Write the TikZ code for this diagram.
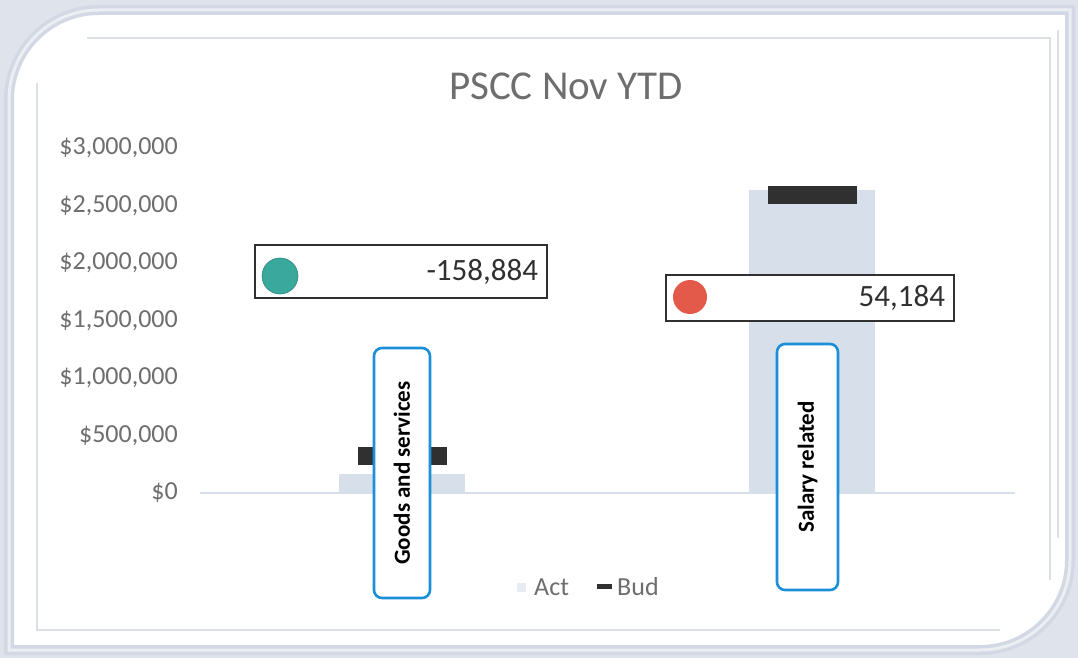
\documentclass[tikz,border=0pt]{standalone}
\usepackage{fontspec}
\setmainfont{Carlito}
\definecolor{txtgrey}{HTML}{6E6E6E}
\definecolor{barblue}{HTML}{D6DFEA}
\definecolor{budgrey}{HTML}{303030}
\definecolor{tealdot}{HTML}{3AA89D}
\definecolor{reddot}{HTML}{E35A4A}
\definecolor{boxblue}{HTML}{1B8FD8}
\definecolor{edgeblue}{HTML}{D2D9E4}
\definecolor{framegrey}{HTML}{DCDFE4}

\begin{document}
\begin{tikzpicture}[x=1pt,y=-1pt,inner sep=0pt,
  actbar/.style={fill=barblue,minimum width=126pt,anchor=south},
  budbar/.style={fill=budgrey,minimum width=89pt,minimum height=18pt},
  ylab/.style={anchor=east,text=txtgrey,font=\fontsize{26}{26}\selectfont},
  callout/.style={draw=budgrey,line width=2.4pt,fill=white},
  dot/.style={circle,minimum size=34pt},
  num/.style={anchor=east,text=budgrey,font=\fontsize{31}{31}\selectfont},
  catbox/.style={draw=boxblue,line width=2.6pt,fill=white,rounded corners=8pt,rotate=90,
    font=\bfseries\fontsize{23}{23}\selectfont}]

\useasboundingbox (0,0) rectangle (1078,658);
\fill[edgeblue!70!white] (0,0) rectangle (1078,658);
\draw[line width=10pt,edgeblue,fill=white] (9,650) [rounded corners=90pt] -- (9,10) [sharp corners] -- (1070,10) [rounded corners=90pt] -- (1070,650) [sharp corners] -- cycle;
\draw[line width=3pt,edgeblue!45!white] (9,650) [rounded corners=90pt] -- (9,10) [sharp corners] -- (1070,10) [rounded corners=90pt] -- (1070,650) [sharp corners] -- cycle;

\draw[framegrey,line width=1.2pt] (87,38) -- (1050,38) -- (1050,580);
\draw[framegrey,line width=1.2pt] (37,83) -- (37,630) -- (1000,630);
\draw[framegrey,line width=1.2pt] (1058,30) -- (1058,538);

\node[text=txtgrey,font=\fontsize{41}{41}\selectfont] (title) at (566,86) {PSCC Nov YTD};

\node[ylab] (y0) at (178,493) {\$0};
\node[ylab] (y1) at (178,435.5) {\$500,000};
\node[ylab] (y2) at (178,378) {\$1,000,000};
\node[ylab] (y3) at (178,320.5) {\$1,500,000};
\node[ylab] (y4) at (178,263) {\$2,000,000};
\node[ylab] (y5) at (178,205.5) {\$2,500,000};
\node[ylab] (y6) at (178,148) {\$3,000,000};

\coordinate (axL) at (200,493);
\coordinate (axR) at (1015,493);
\draw[barblue!70!framegrey,line width=2pt] (axL) -- (axR);

\node[actbar,minimum height=19pt] (actG) at (402,493) {};
\node[actbar,minimum height=303pt] (actS) at (812,493) {};
\node[budbar] (budG) at (402,456) {};
\node[budbar] (budS) at (812,195) {};

\node[callout,minimum width=292pt,minimum height=53pt] (varG) at (401,271.5) {};
\node[dot,fill=tealdot,draw=tealdot!80!black,line width=0.6pt,minimum width=36pt] (dotG) at (280,276) {};
\node[num] (numG) at ([xshift=-10pt]varG.east) {-158,884};

\node[callout,minimum width=288pt,minimum height=46pt] (varS) at (810,298) {};
\node[dot,fill=reddot] (dotS) at (690,297) {};
\node[num] (numS) at ([xshift=-10pt]varS.east) {54,184};

\node[catbox,minimum width=250pt,minimum height=56pt] (catG) at (402,473) {Goods and services};
\node[catbox,minimum width=246pt,minimum height=61pt] (catS) at (807.5,467) {Salary related};

\node[fill=barblue!60!white,minimum size=9pt] (keyA) at (521,587) {};
\node[anchor=west,text=txtgrey,font=\fontsize{26}{26}\selectfont] (legA) at (534,587) {Act};
\coordinate (keyB1) at (597,586);
\coordinate (keyB2) at (612,586);
\draw[budgrey,line width=5pt] (keyB1) -- (keyB2);
\node[anchor=west,text=txtgrey,font=\fontsize{26}{26}\selectfont] (legB) at (617,587) {Bud};
\end{tikzpicture}
\end{document}
